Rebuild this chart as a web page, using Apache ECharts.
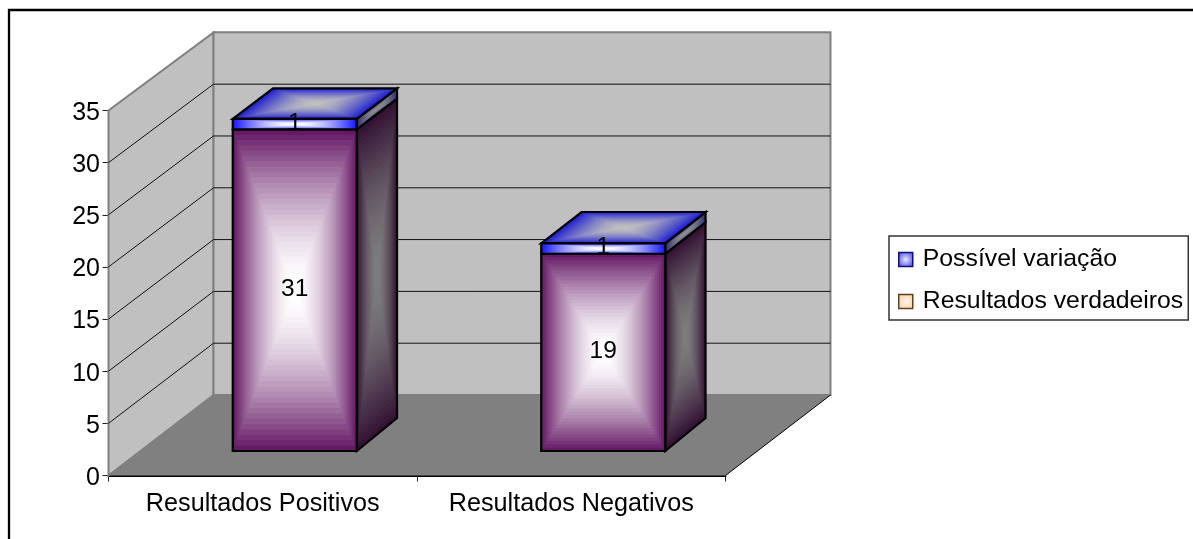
<!DOCTYPE html>
<html><head><meta charset="utf-8">
<style>html,body{margin:0;padding:0;background:#fff}#c{width:1193px;height:539px}</style>
<script src="https://cdn.jsdelivr.net/npm/echarts@6/dist/echarts.min.js"></script>
</head><body><div id="c"></div>
<script>
const categories = ['Resultados Positivos', 'Resultados Negativos'];
const resultadosVerdadeiros = [31, 19];
const possivelVariacao = [1, 1];
const yTicks = [0, 5, 10, 15, 20, 25, 30, 35];
const seriesNames = ['Possível variação', 'Resultados verdadeiros'];

const BAR_FRAC = 0.402;
const PLANE_WALL = {dx:105, dy:-80.5, k:0.9935};
const PLANE_NEAR = {dx:32, dy:-24.5, k:0.995};
const PLANE_FAR  = {dx:72.3, dy:-57.5, k:0.9876};
const FONT = '"Liberation Sans", Arial, sans-serif';

function hex(c){return [1,3,5].map(i=>parseInt(c.substr(i,2),16));}
function mix(a,b,t){const A=hex(a),B=hex(b);return 'rgb('+A.map((v,i)=>Math.round(v+(B[i]-v)*t)).join(',')+')';}
function bands(q, edge, center, n){
  const cx=(q[0][0]+q[1][0]+q[2][0]+q[3][0])/4, cy=(q[0][1]+q[1][1]+q[2][1]+q[3][1])/4, out=[];
  for(let i=0;i<n;i++){
    const k=1-i/n, t=1-Math.pow(1-i/(n-1),1.6);
    out.push({type:'polygon',shape:{points:q.map(p=>[cx+(p[0]-cx)*k,cy+(p[1]-cy)*k])},
      style:{fill:mix(edge,center,t),stroke:null}});
  }
  out.push({type:'polygon',shape:{points:q},style:{fill:'none',stroke:'#000',lineWidth:2.2,lineJoin:'miter'}});
  return out;
}
function onPlane(x, y, base, pl){ return [x+pl.dx, base-(base-y)*pl.k+pl.dy]; }

function renderBox(palette, withTop){
  return function(params, api){
    const cat=api.value(0), from=api.value(1), to=api.value(2);
    const base=params.coordSys.y+params.coordSys.height;
    const bw=api.size([1,0])[0]*BAR_FRAC;
    const c0=api.coord([cat,from]), c1=api.coord([cat,to]);
    const xl=c0[0]-bw/2, xr=c0[0]+bw/2;
    const nl0=onPlane(xl,c0[1],base,PLANE_NEAR), nr0=onPlane(xr,c0[1],base,PLANE_NEAR);
    const nl1=onPlane(xl,c1[1],base,PLANE_NEAR), nr1=onPlane(xr,c1[1],base,PLANE_NEAR);
    const fl1=onPlane(xl,c1[1],base,PLANE_FAR), fr0=onPlane(xr,c0[1],base,PLANE_FAR), fr1=onPlane(xr,c1[1],base,PLANE_FAR);
    const front=[nl1,nr1,nr0,nl0];
    const side=[nr1,fr1,fr0,nr0];
    let kids=[...bands(side,palette.sideEdge,palette.sideCenter,palette.n)];
    if(withTop){
      kids=kids.concat(bands([nl1,nr1,fr1,fl1],palette.topEdge,palette.topCenter,palette.n));
    }
    kids=kids.concat(bands(front,palette.frontEdge,palette.frontCenter,palette.n));
    kids.push({type:'text',z2:50,style:{text:String(to-from),x:(nl0[0]+nr0[0])/2,y:(nl0[1]+nl1[1])/2-1,align:'center',verticalAlign:'middle',
      font:'24.5px '+FONT,fill:'#000'}});
    return {type:'group',children:kids};
  };
}

function renderWalls(params, api){
  const g=params.coordSys, L=g.x, R=g.x+g.width, T=g.y, B=g.y+g.height, P=PLANE_WALL;
  const bL=onPlane(L,B,B,P), bR=onPlane(R,B,B,P), tL=onPlane(L,T,B,P), tR=onPlane(R,T,B,P);
  const kids=[
    {type:'polygon',shape:{points:[[L,B],bL,tL,[L,T]]},style:{fill:'#c0c0c0',stroke:'#808080',lineWidth:2}},
    {type:'polygon',shape:{points:[tL,tR,bR,bL]},style:{fill:'#c0c0c0',stroke:'#808080',lineWidth:2}},
    {type:'polygon',shape:{points:[[L,B],[R,B],bR,bL]},style:{fill:'#808080',stroke:null}},
    {type:'line',shape:{x1:R,y1:B,x2:bR[0],y2:bR[1]},style:{stroke:'#000',lineWidth:1}}
  ];
  yTicks.slice(1,-1).forEach(v=>{
    const y=api.coord([0,v])[1], p=onPlane(L,y,B,P);
    kids.push({type:'polyline',shape:{points:[[L,y],p,[R+P.dx,p[1]]]},style:{fill:'none',stroke:'#111',lineWidth:1}});
  });
  return {type:'group',children:kids};
}

const purple={frontEdge:'#661a66',frontCenter:'#ffffff',sideEdge:'#331233',sideCenter:'#7d7d7d',topEdge:'#2020c0',topCenter:'#c0c0c0',n:30};
const blue={frontEdge:'#1a1aff',frontCenter:'#ffffff',sideEdge:'#30306f',sideCenter:'#909090',topEdge:'#1f1fd0',topCenter:'#c0c0c0',n:30};

const chart=echarts.init(document.getElementById('c'),null,{renderer:'canvas'});
chart.setOption({
  animation:false,
  backgroundColor:'#fff',
  graphic:[{type:'rect',z:-1,silent:true,shape:{x:9,y:10,width:1200,height:540},style:{fill:'none',stroke:'#000',lineWidth:2.3}}],
  grid:{left:108.5,top:110.5,width:617,height:365},
  legend:{
    orient:'vertical',left:889,top:236,padding:[11,5,6,9],
    backgroundColor:'#fff',borderColor:'#333',borderWidth:1.5,
    itemWidth:14,itemHeight:14,itemGap:17,
    textStyle:{fontFamily:FONT,fontSize:24.8,color:'#000',lineHeight:20,padding:[0,0,0,5]},
    data:[
      {name:seriesNames[0],icon:'rect',itemStyle:{color:{type:'radial',x:.5,y:.5,r:.7,colorStops:[{offset:0,color:'#e8e8ff'},{offset:1,color:'#3030e0'}]},borderColor:'#101080',borderWidth:1.5}},
      {name:seriesNames[1],icon:'rect',itemStyle:{color:{type:'radial',x:.5,y:.5,r:.7,colorStops:[{offset:0,color:'#fff4e8'},{offset:1,color:'#ffcc99'}]},borderColor:'#604020',borderWidth:1.5}}
    ]
  },
  xAxis:{type:'category',data:categories,
    axisLine:{lineStyle:{color:'#000',width:2}},
    axisTick:{show:true,length:6,alignWithLabel:false,lineStyle:{color:'#222'}},
    axisLabel:{color:'#000',fontFamily:FONT,fontSize:25.2,margin:16,interval:0,hideOverlap:false}},
  yAxis:{type:'value',min:0,max:35,interval:5,
    axisLine:{show:true,lineStyle:{color:'#000',width:1}},
    axisTick:{show:true,length:6,lineStyle:{color:'#222'}},
    splitLine:{show:false},
    axisLabel:{color:'#000',fontFamily:FONT,fontSize:25,margin:8.5,verticalAlign:'top',lineHeight:5}},
  series:[
    {type:'custom',name:'walls',silent:true,z:1,coordinateSystem:'cartesian2d',renderItem:renderWalls,data:[[0,0]]},
    {type:'custom',name:seriesNames[1],z:2,coordinateSystem:'cartesian2d',renderItem:renderBox(purple,false),
      encode:{x:0,y:2},data:categories.map((c,i)=>[i,0,resultadosVerdadeiros[i]])},
    {type:'custom',name:seriesNames[0],z:3,coordinateSystem:'cartesian2d',renderItem:renderBox(blue,true),
      encode:{x:0,y:2},data:categories.map((c,i)=>[i,resultadosVerdadeiros[i],resultadosVerdadeiros[i]+possivelVariacao[i]])}
  ]
});
</script></body></html>
